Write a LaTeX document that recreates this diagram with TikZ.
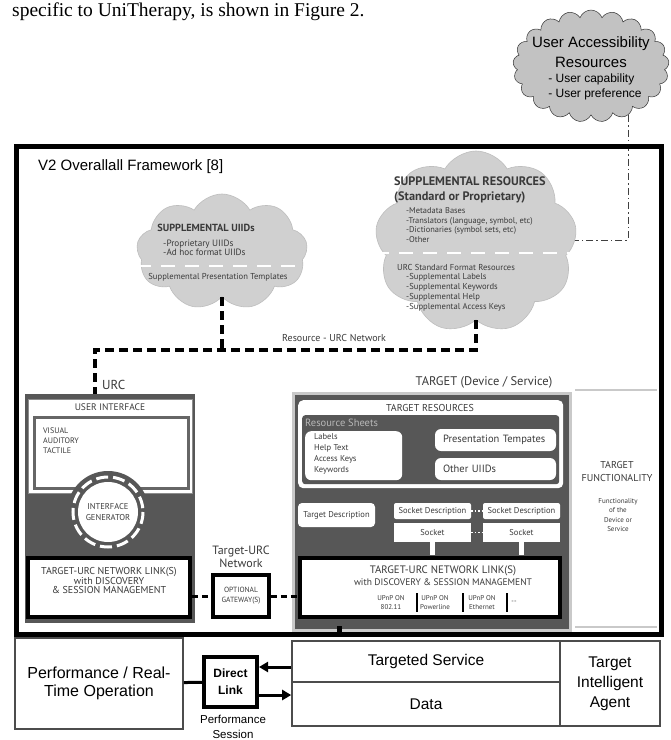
\documentclass[tikz,border=0pt]{standalone}
\usepackage{fontspec}
\setmainfont{Liberation Sans}
\newfontfamily\ptsans{PT Sans}
\newfontfamily\serifcap{Liberation Serif}
\usetikzlibrary{shapes.symbols,arrows.meta}
\definecolor{cloudfill}{HTML}{D0D0D0}
\definecolor{clouddraw}{HTML}{BDBDBD}
\definecolor{uafill}{HTML}{C2C2C2}
\definecolor{panel}{HTML}{575757}
\definecolor{ink}{HTML}{3A3A3A}
\definecolor{rim}{HTML}{C9C9C9}
\newcommand\fsz[2]{\fontsize{#1}{#2}\selectfont}

\tikzset{
  cloudnode/.style={cloud, cloud puffs=9, cloud puff arc=120, fill=cloudfill, draw=clouddraw, line width=0.6pt},
  uacloud/.style={cloud, cloud puffs=21, cloud puff arc=140, fill=uafill, draw=black!80, line width=0.5pt},
  ptxt/.style={inner sep=0pt, font=\ptsans, text=ink},
  rnet/.style={line width=3.5pt, dash pattern=on 9pt off 5pt},
  gwnet/.style={line width=3pt, dash pattern=on 6pt off 4pt},
  uanet/.style={line width=0.9pt, black!75, dash pattern=on 7pt off 3pt on 1.5pt off 3pt},
  linkbox/.style={draw=black, line width=3.5pt, fill=white, ptxt},
  rbox/.style={fill=white, rounded corners=5pt, ptxt},
  sbox/.style={fill=white, ptxt},
  sepline/.style={white, line width=2.5pt, dash pattern=on 14pt off 10pt},
  plainbox/.style={draw=black!70, line width=1.6pt, fill=white, inner sep=0pt},
  thickarr/.style={line width=3pt, -{Triangle[length=9pt,width=10pt]}},
}

\begin{document}
\begin{tikzpicture}[x=1pt,y=-1pt]
%%%%% START %%%%%
\fill[white] (0,0) rectangle (671,740);
\useasboundingbox (0,0) rectangle (671,740);

\node[anchor=base west, inner sep=0pt, font=\serifcap\fsz{19.5}{22}] (capline) at (12,16) {specific to UniTherapy, is shown in Figure 2.};

% user accessibility resources
\node[uacloud, minimum width=156pt, minimum height=112pt] (uacl) at (591,66) {};
\node[inner sep=0pt, align=center, font=\fsz{15}{20}] (uatitle) at (591,52) {User Accessibility\\Resources};
\node[inner sep=0pt, align=left, font=\fsz{12}{15}] (ualist) at (595,87) {- User capability\\- User preference};
\coordinate (uadrop) at (uacl.south -| 628,0);
\coordinate (othr) at (433,240);
\draw[uanet] (uadrop) |- (othr);

% framework
\draw[line width=5pt] (16,146) rectangle (661,634);
\node[anchor=base west, inner sep=0pt, font=\fsz{15}{18}] (v2title) at (38,170) {V2 Overallall Framework [8]};

% supplemental uiids
\node[cloudnode, minimum width=171pt, minimum height=116pt] (uiid) at (222,252) {};
\node[ptxt, font=\ptsans\bfseries\fsz{10.3}{11}] (uiidhead) at (206,228) {SUPPLEMENTAL UIIDs};
\node[ptxt, anchor=west, align=left, font=\ptsans\fsz{9.2}{9.5}] (uiidlist) at (163,248) {-Proprietary UIIDs\\-Ad hoc format UIIDs};
\draw[sepline] (137,266) -- (308,266);
\node[ptxt, font=\ptsans\fsz{8.6}{10}] (uiidtpl) at (218,277) {Supplemental Presentation Templates};

% supplemental resources
\node[cloudnode, minimum width=202pt, minimum height=182pt] (suppres) at (476,242) {};
\node[ptxt, anchor=west, align=left, font=\ptsans\bfseries\fsz{12.3}{15}] (reshead) at (394,189.5) {SUPPLEMENTAL RESOURCES\\(Standard or Proprietary)};
\node[ptxt, anchor=west, align=left, font=\ptsans\fsz{8.4}{9.5}] (reslist) at (406,225) {-Metadata Bases\\-Translators (language, symbol, etc)\\-Dictionaries (symbol sets, etc)\\-Other};
\draw[sepline] (375,253) -- (577,253);
\node[ptxt, anchor=west, font=\ptsans\fsz{8.6}{10}] (urcstd) at (397,267) {URC Standard Format Resources};
\node[ptxt, anchor=west, align=left, font=\ptsans\fsz{8.6}{10}] (urclist) at (406,292) {-Supplemental Labels\\-Supplemental Keywords\\-Supplemental Help\\-Supplemental Access Keys};

% urc side
\node[fill=panel, minimum width=170pt, minimum height=229pt, anchor=north west] (urcpanel) at (25,394) {};
\coordinate (rleft) at (95,350);
\draw[rnet] (uiid.south) -- (uiid.south |- rleft);
\draw[rnet] (suppres.south) |- (rleft) -- (urcpanel.north -| rleft);
\node[ptxt, font=\ptsans\fsz{10}{12}] (rlabel) at (334,338) {Resource - URC Network};
\node[ptxt, anchor=west, font=\ptsans\fsz{13}{15}] (urclbl) at (102,385) {URC};

\node[fill=white, draw=black!45, line width=0.8pt, minimum width=164pt, minimum height=94pt, anchor=north west] (uibox) at (28,399) {};
\node[ptxt, font=\ptsans\fsz{9.5}{11}] (uihead) at (110,407) {USER INTERFACE};
\node[draw=black!60, line width=3pt, fill=white, minimum width=154pt, minimum height=71pt, anchor=north west] (uiinner) at (33,416) {};
\node[ptxt, anchor=west, align=left, font=\ptsans\fsz{8}{10.3}] (uimodes) at (43,440.5) {VISUAL\\AUDITORY\\TACTILE};

\fill[panel] (108,512) circle (41);
\draw[white, line width=3pt, dash pattern=on 12pt off 5pt] (108,512) circle (35);
\node[circle, fill=white, minimum size=60pt, inner sep=0pt, align=center, font=\ptsans\fsz{8.5}{11}, text=ink] (igen) at (108,512) {INTERFACE\\GENERATOR};

\node[linkbox, minimum width=162pt, minimum height=59pt] (urclink) at (109,587.5) {};
\node[ptxt, align=center, font=\ptsans\fsz{10}{9.7}] (urclinktxt) at (109,580.5) {TARGET-URC NETWORK LINK(S)\\with DISCOVERY\\\& SESSION MANAGEMENT};

\node[ptxt, align=center, font=\ptsans\fsz{12}{13}] (trnet) at (241,557) {Target-URC\\Network};
\node[linkbox, minimum width=56pt, minimum height=42pt, align=center, font=\ptsans\fsz{7.5}{10}] (gw) at (241,596) {OPTIONAL\\GATEWAY(S)};

% target side
\node[fill=panel, draw=rim, line width=3pt, minimum width=277pt, minimum height=237pt, anchor=north west] (tpanel) at (291.5,391.5) {};
\draw[rim, line width=2pt] (575,390) -- (657,390);
\draw[rim, line width=2pt] (575,627) -- (657,627);
\node[ptxt, font=\ptsans\fsz{12.5}{14}] (tlabel) at (484,382) {TARGET (Device / Service)};

\node[rbox, minimum width=265pt, minimum height=88pt, anchor=north west] (tres) at (298,400) {};
\node[ptxt, font=\ptsans\fsz{10}{12}] (treshead) at (430,408) {TARGET RESOURCES};
\node[fill=panel, rounded corners=3pt, minimum width=257pt, minimum height=69pt, anchor=north west] (tresin) at (302,415) {};
\node[ptxt, anchor=west, text=black!28, font=\ptsans\fsz{10.5}{12}] (rsheet) at (305,423) {Resource Sheets};
\node[rbox, rounded corners=6pt, minimum width=97pt, minimum height=49pt, anchor=north west] (rsbox) at (305,431) {};
\node[ptxt, anchor=west, align=left, font=\ptsans\fsz{8.5}{11}] (rslist) at (314,453.5) {Labels\\Help Text\\Access Keys\\Keywords};
\node[rbox, rounded corners=6pt, minimum width=121pt, minimum height=22pt, text width=105pt, align=left, font=\ptsans\fsz{10.5}{12}] (prestpl) at (495.5,440) {Presentation Tempates};
\node[rbox, rounded corners=6pt, minimum width=121pt, minimum height=22pt, text width=105pt, align=left, font=\ptsans\fsz{10.5}{12}] (othuiid) at (495.5,469) {Other UIIDs};

\node[rbox, rounded corners=4pt, minimum width=77pt, minimum height=24pt, font=\ptsans\fsz{8.5}{10}] (tdesc) at (336.5,515) {Target Description};
\node[sbox, rounded corners=2pt, minimum width=77pt, minimum height=16pt, font=\ptsans\fsz{8.5}{10}] (sdesc1) at (432.5,511) {Socket Description};
\node[sbox, rounded corners=2pt, minimum width=77pt, minimum height=16pt, font=\ptsans\fsz{8.5}{10}] (sdesc2) at (521.5,511) {Socket Description};
\node[sbox, minimum width=77pt, minimum height=19pt, font=\ptsans\fsz{8.5}{10}] (sock1) at (432.5,532.5) {Socket};
\node[sbox, minimum width=77pt, minimum height=19pt, font=\ptsans\fsz{8.5}{10}] (sock2) at (521.5,532.5) {Socket};
\draw[white, line width=1.5pt, dotted] (sdesc1) -- (sdesc2);
\draw[white, line width=1.5pt, dotted] (sock1) -- (sock2);

\node[linkbox, minimum width=260pt, minimum height=59pt] (tlink) at (430,587.5) {};
\draw[white, line width=5pt, shorten >=1.75pt] (sock1.south) -- (sock1.south |- tlink.north);
\draw[white, line width=5pt, shorten >=1.75pt] (sock2.south) -- (sock2.south |- tlink.north);
\node[ptxt, align=center, font=\ptsans\fsz{9.5}{12}] (tlinktxt) at (443,576) {{\fsz{10.8}{12}TARGET-URC NETWORK LINK(S)}\\with DISCOVERY \& SESSION MANAGEMENT};
\node[ptxt, align=center, font=\ptsans\fsz{7}{9}] (upnpa) at (391,602.5) {UPnP ON\\802.11};
\node[ptxt, align=center, font=\ptsans\fsz{7}{9}] (upnpb) at (435,602.5) {UPnP ON\\Powerline};
\node[ptxt, align=center, font=\ptsans\fsz{7}{9}] (upnpc) at (482,602.5) {UPnP ON\\Ethernet};
\node[ptxt, font=\ptsans\fsz{7}{9}] (upnpd) at (514,602.5) {--};
\foreach \sx in {417,463,507}
  \draw[line width=2.5pt] (\sx,593) -- (\sx,612);
\fill (337,626) rectangle (342,632);

\draw[gwnet] (urclink.east |- gw.west) -- (gw.west);
\draw[gwnet] (gw.east) -- (gw.east -| tlink.west);

\node[ptxt, align=center, font=\ptsans\fsz{10}{13}] (tfunc) at (617,471.5) {TARGET\\FUNCTIONALITY};
\node[ptxt, align=center, font=\ptsans\fsz{7}{9.3}] (tfdesc) at (618,515) {Functionality\\of the\\Device or\\Service};

% bottom row
\node[plainbox, minimum width=168pt, minimum height=91pt, align=center, font=\fsz{16}{18}] (perf) at (99,683.5) {Performance / Real-\\Time Operation};
\node[draw, line width=4pt, minimum width=53pt, minimum height=50pt, inner sep=0pt, align=center, font=\bfseries\fsz{12}{17}] (dlink) at (230.5,682) {Direct\\Link};
\draw[line width=3pt] (perf) -- (dlink);
\node[plainbox, minimum width=268pt, minimum height=41pt, font=\fsz{15.5}{18}] (tserv) at (426,661.5) {Targeted Service};
\node[plainbox, minimum width=268pt, minimum height=44pt, font=\fsz{15.5}{18}] (tdata) at (426,704) {Data};
\node[plainbox, minimum width=100pt, minimum height=85pt, align=center, font=\fsz{15.5}{20}] (agent) at (610,683.5) {Target\\Intelligent\\Agent};
\coordinate (upin) at ([yshift=-5.5pt]tserv.west);
\draw[thickarr] (upin) -- (upin -| dlink.east);
\coordinate (dnout) at ([yshift=-13pt]dlink.east);
\draw[thickarr] (dnout) -- (dnout -| tdata.west);
\node[inner sep=0pt, align=center, font=\fsz{11.5}{15}] (psess) at (233,727) {Performance\\Session};
%%%%% END %%%%%
\end{tikzpicture}
\end{document}
